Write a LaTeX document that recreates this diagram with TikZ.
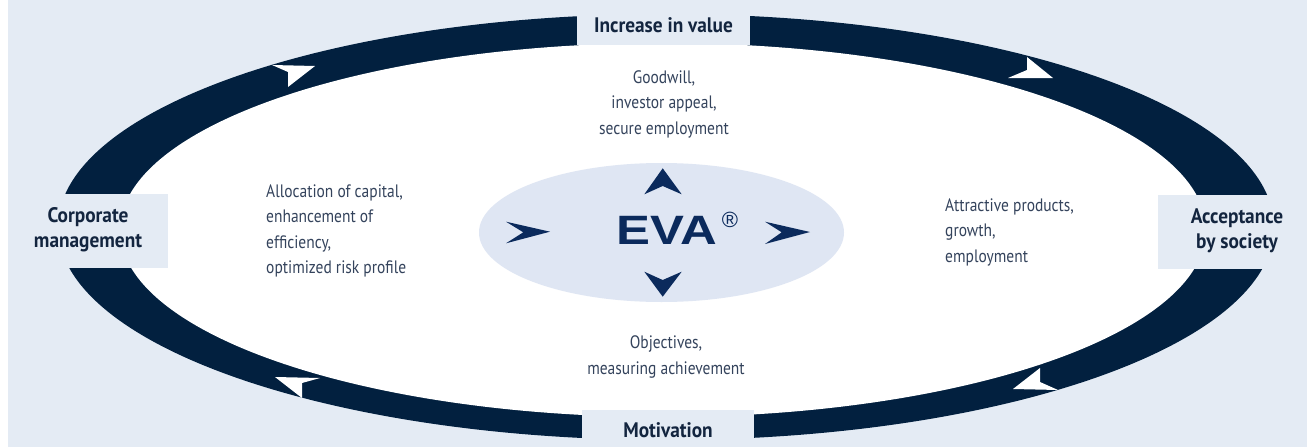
\documentclass[tikz,border=0pt]{standalone}
\usepackage{fontspec}
\setmainfont{PT Sans}
\newfontfamily\bodyfont[FakeStretch=0.86]{PT Sans}
\newfontfamily\labelfont[FakeStretch=0.92]{PT Sans Bold}
\newfontfamily\evafont[FakeStretch=1.24]{Liberation Sans Bold}
\newfontfamily\symfont{Liberation Sans}
\definecolor{bg}{HTML}{E4EBF4}
\definecolor{ringc}{HTML}{02203F}
\definecolor{evablue}{HTML}{0B2A5C}
\definecolor{evabg}{HTML}{DFE6F3}
\definecolor{bodytxt}{HTML}{34435C}
\definecolor{labeltxt}{HTML}{13253F}
\tikzset{
  lblbox/.style={fill=bg},
  lbl/.style={inner sep=0pt, align=center, text=labeltxt,
    font=\labelfont\fontsize{21}{25}\selectfont},
  body/.style={inner sep=0pt, text=bodytxt,
    font=\bodyfont\fontsize{18}{25.5}\selectfont},
  flowtip/.style={fill=white},
  evatip/.style={fill=evablue}
}
\begin{document}
\begin{tikzpicture}[x=1pt,y=-1pt]
\fill[white] (0,0) rectangle (1307,447);
\fill[bg] (8,0) rectangle (1307,447);
\useasboundingbox (0,0) rectangle (1307,447);
% ring
\fill[ringc] (666,227) ellipse [x radius=608pt, y radius=213pt];
\fill[white] (663,230) ellipse [x radius=543pt, y radius=187pt];
% flow arrowheads on the ring (clockwise)
\fill[flowtip] (272,65) -- (315,66) -- (288,87) -- (288,72) -- cycle;
\fill[flowtip] (1027,57) -- (1053,78) -- (1008,78) -- (1027,70) -- cycle;
\fill[flowtip] (1040,368) -- (1013,389) -- (1058,390) -- (1040,382) -- cycle;
\fill[flowtip] (275,377) -- (320,378) -- (302,383) -- (302,398) -- cycle;
% centre ellipse
\fill[evabg] (661.5,232.5) ellipse [x radius=182.5pt, y radius=69.5pt];
\node[text=evablue, inner sep=0pt, font=\evafont\fontsize{41}{41}\selectfont] (eva) at (666.5,230) {EVA};
\node[text=evablue, inner sep=0pt, font=\symfont\fontsize{22}{22}\selectfont] (reg) at (730,220) {®};
\fill[evatip] (662.7,168.3) -- (681.7,194.3) -- (662.7,186) -- (644.3,194.3) -- cycle;
\fill[evatip] (662.7,296.7) -- (681.7,271.7) -- (662.7,280) -- (644.3,271.7) -- cycle;
\fill[evatip] (550,231.7) -- (506,221.7) -- (523.3,232.3) -- (506,243.3) -- cycle;
\fill[evatip] (810,232) -- (765,221.7) -- (781.7,232.3) -- (765,244) -- cycle;
% label boxes on the ring
\fill[lblbox] (577,0) rectangle (750,45);
\fill[lblbox] (582,410) rectangle (754,447);
\fill[lblbox] (8,194) rectangle (168,268);
\fill[lblbox] (1158,195) rectangle (1307,269);
% labels
\node[lbl] (inc) at (663.5,25) {Increase in value};
\node[lbl] (mot) at (668,430) {Motivation};
\node[lbl] (corp) at (88,230) {Corporate\\management};
\node[lbl] (acc) at (1237,231) {Acceptance\\by society};
% text blocks
\node[body, align=center] (good) at (664,104) {Goodwill,\\investor appeal,\\secure employment};
\node[body, align=left, anchor=west] (alloc) at (266,231) {Allocation of capital,\\enhancement of\\efficiency,\\optimized risk profile};
\node[body, align=left, anchor=west] (attr) at (945,232) {Attractive products,\\growth,\\employment};
\node[body, align=center] (obj) at (666,357) {Objectives,\\measuring achievement};
\end{tikzpicture}
\end{document}
